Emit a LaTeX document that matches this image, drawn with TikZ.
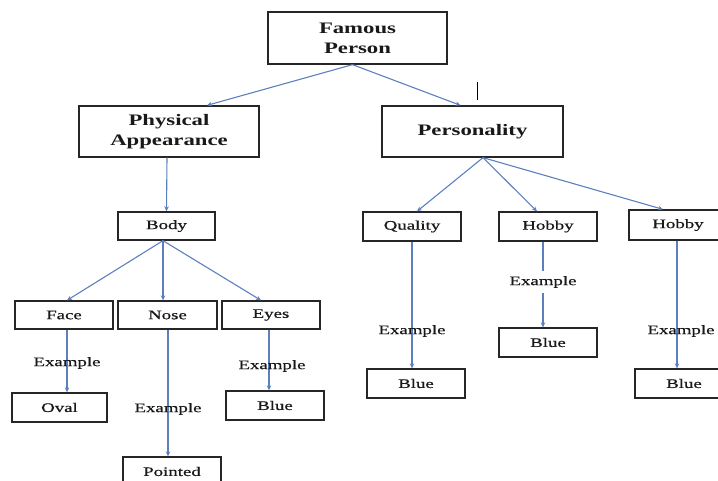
\documentclass[tikz,border=0pt]{standalone}
\usepackage{fontspec}
\setmainfont{Liberation Serif}[FakeStretch=1.42]
\newfontfamily\regfont{Liberation Serif}[FakeStretch=1.45,FakeBold=0.6]
\usetikzlibrary{arrows.meta,calc}
\definecolor{arrblue}{RGB}{92,128,190}
\tikzset{
  box/.style={draw=black!85, line width=1.3pt, fill=white, inner sep=0pt, align=center,
              text=black!90, font=\regfont\fontsize{13}{15}\selectfont},
  bigbox/.style={box, font=\fontsize{16}{20}\selectfont\bfseries},
  arr/.style={draw=arrblue, line width=1.1pt, -{Stealth[length=5pt,width=4.5pt]}},
  lbl/.style={inner sep=1pt, text=black!90, font=\regfont\fontsize{13}{15}\selectfont},
}
\begin{document}
\begin{tikzpicture}[x=1pt,y=-1pt]
\useasboundingbox (0,0) rectangle (718,481);
% top level
\node[bigbox, minimum width=179pt, minimum height=52pt] (fp) at (357.5,38) {Famous\\Person};
\node[bigbox, minimum width=180pt, minimum height=51pt] (pa) at (169,131.5) {Physical\\Appearance};
\node[bigbox, minimum width=181pt, minimum height=51pt] (pers) at (472.5,131.5) {Personality};
% second level
\node[box, minimum width=97pt, minimum height=28pt] (body) at (166.5,226) {Body};
\node[box, minimum width=98pt, minimum height=29pt] (qual) at (412,226.5) {Quality};
\node[box, minimum width=98pt, minimum height=29pt] (hob1) at (548,226.5) {Hobby};
\node[box, minimum width=98pt, minimum height=30pt] (hob2) at (678,225) {Hobby};
% third level
\node[box, minimum width=98pt, minimum height=28pt] (face) at (64,315) {Face};
\node[box, minimum width=99pt, minimum height=28pt] (nose) at (167.5,315) {Nose};
\node[box, minimum width=98pt, minimum height=28pt] (eyes) at (271,315) {Eyes};
% leaves
\node[box, minimum width=95pt, minimum height=29pt] (oval) at (59.5,407.5) {Oval};
\node[box, minimum width=98pt, minimum height=29pt] (point) at (172,471.5) {Pointed};
\node[box, minimum width=98pt, minimum height=29pt] (eblue) at (275,405.5) {Blue};
\node[box, minimum width=98pt, minimum height=29pt] (qblue) at (416,383.5) {Blue};
\node[box, minimum width=98pt, minimum height=29pt] (h1blue) at (548,342.5) {Blue};
\node[box, minimum width=98pt, minimum height=29pt] (h2blue) at (684,383.5) {Blue};

% connectors top
\coordinate (fpo) at ($(fp.south)+(-5,0)$);
\draw[arr] (fpo) -- ($(pa.north)+(38,0)$);
\draw[arr] (fpo) -- ($(pers.north)+(-12,0)$);
\draw[arr] ($(pa.south)+(-2,0)$) -- (body.north);
\coordinate (perso) at ($(pers.south)+(10.5,0)$);
\draw[arr] (perso) -- ($(qual.north)+(5,0)$);
\draw[arr] (perso) -- ($(hob1.north)+(-11,0)$);
\draw[arr] (perso) -- ($(hob2.north)+(-15,0)$);
\coordinate (bodyo) at ($(body.south)+(-3.5,0)$);
\draw[arr] (bodyo) -- ($(face.north)+(3,0)$);
\draw[arr] (bodyo) -- ($(nose.north)+(-4.5,0)$);
\draw[arr] (bodyo) -- ($(eyes.north)+(-10,0)$);

% vertical example connectors
\coordinate (fs) at ($(face.south)+(3,0)$);
\draw[arr] (fs) -- (fs |- oval.north);
\node[lbl] (ex1) at (67,363) {Example};
\coordinate (ns) at ($(nose.south)+(0.5,0)$);
\draw[arr] (ns) -- (ns |- point.north);
\node[lbl] (ex2) at (168,409) {Example};
\coordinate (es) at ($(eyes.south)+(-2,0)$);
\draw[arr] (es) -- (es |- eblue.north);
\node[lbl] (ex3) at (272,366) {Example};
\draw[arr] (qual.south) -- (qual.south |- qblue.north);
\node[lbl] (ex4) at (412,331) {Example};
\coordinate (h1s) at ($(hob1.south)+(-5,0)$);
\draw[arr] (h1s) -- (h1s |- h1blue.north);
\node[lbl, fill=white, inner ysep=5pt] (ex5) at (543,282) {Example};
\coordinate (h2s) at ($(hob2.south)+(-1,0)$);
\draw[arr] (h2s) -- (h2s |- h2blue.north);
\node[lbl] (ex6) at (681,331) {Example};

% stray tick
\coordinate (t1) at (477,82);
\coordinate (t2) at (477,100);
\draw[black, line width=0.8pt] (t1) -- (t2);
\end{tikzpicture}
\end{document}
